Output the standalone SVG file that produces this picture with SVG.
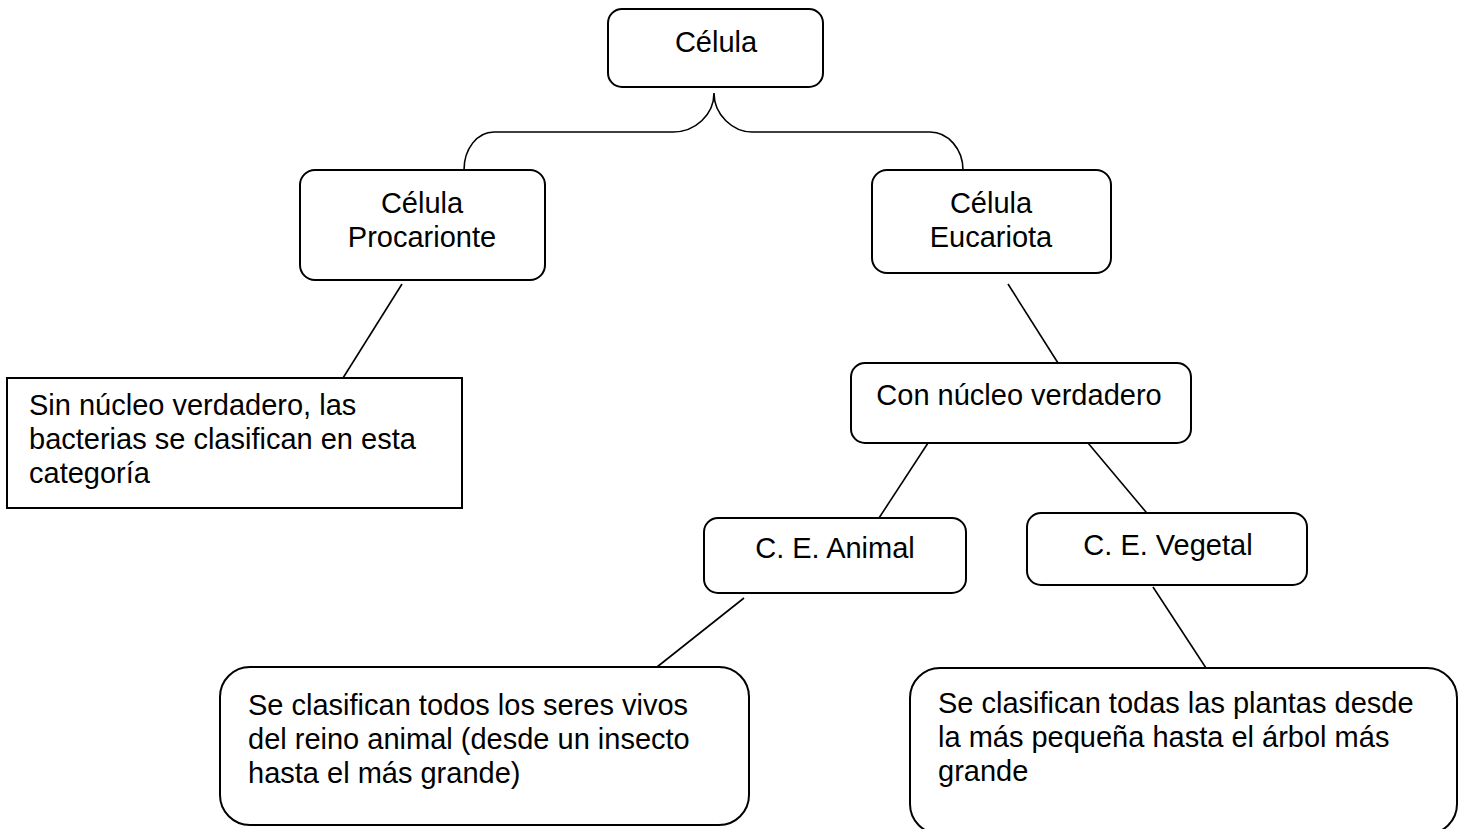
<svg xmlns="http://www.w3.org/2000/svg" width="1464" height="829" viewBox="0 0 1464 829">
<style>
.box{fill:#ffffff;stroke:#000000;stroke-width:2}
.ln{fill:none;stroke:#000000;stroke-width:1.6}
text{font-family:"Liberation Sans",Arial,sans-serif;font-size:29px;fill:#000000}
.c{text-anchor:middle}
</style>
<rect width="1464" height="829" fill="#ffffff"/>
<g id="connectors">
<path class="ln" d="M464,170 C464,149 477,132 494,132 L673,132 C695,132 714,115 714,93 C714,115 733,132 752,132 L930,132 C948,132 963,149 963,170"/>
<line class="ln" x1="402" y1="284" x2="343" y2="378"/>
<line class="ln" x1="1008" y1="284" x2="1058" y2="363"/>
<line class="ln" x1="928" y1="443" x2="879" y2="518"/>
<line class="ln" x1="1088" y1="443" x2="1151" y2="518"/>
<line class="ln" x1="744" y1="598" x2="657" y2="667"/>
<line class="ln" x1="1153" y1="587" x2="1206" y2="668"/>
</g>
<g id="celula">
<rect class="box" x="608" y="9" width="215" height="78" rx="14"/>
<text class="c" x="716" y="52">Célula</text>
</g>
<g id="procarionte">
<rect class="box" x="300" y="170" width="245" height="110" rx="15"/>
<text class="c" x="422" y="213">Célula</text>
<text class="c" x="422" y="247">Procarionte</text>
</g>
<g id="eucariota">
<rect class="box" x="872" y="170" width="239" height="103" rx="15"/>
<text class="c" x="991" y="213">Célula</text>
<text class="c" x="991" y="247">Eucariota</text>
</g>
<g id="sin-nucleo">
<rect class="box" x="7" y="378" width="455" height="130"/>
<text x="29" y="415">Sin núcleo verdadero, las</text>
<text x="29" y="449">bacterias se clasifican en esta</text>
<text x="29" y="483">categoría</text>
</g>
<g id="con-nucleo">
<rect class="box" x="851" y="363" width="340" height="80" rx="14"/>
<text class="c" x="1019" y="405">Con núcleo verdadero</text>
</g>
<g id="animal">
<rect class="box" x="704" y="518" width="262" height="75" rx="14"/>
<text class="c" x="835" y="558">C. E. Animal</text>
</g>
<g id="vegetal">
<rect class="box" x="1027" y="513" width="280" height="72" rx="14"/>
<text class="c" x="1168" y="555">C. E. Vegetal</text>
</g>
<g id="animal-desc">
<rect class="box" x="220" y="667" width="529" height="158" rx="30"/>
<text x="248" y="715">Se clasifican todos los seres vivos</text>
<text x="248" y="749">del reino animal (desde un insecto</text>
<text x="248" y="783">hasta el más grande)</text>
</g>
<g id="vegetal-desc">
<rect class="box" x="910" y="668" width="547" height="166" rx="30"/>
<text x="938" y="713">Se clasifican todas las plantas desde</text>
<text x="938" y="747">la más pequeña hasta el árbol más</text>
<text x="938" y="781">grande</text>
</g>
</svg>
